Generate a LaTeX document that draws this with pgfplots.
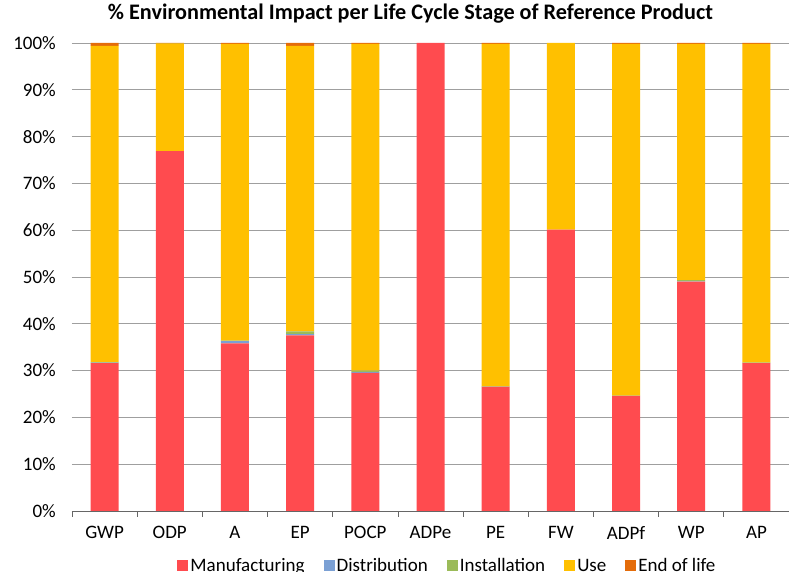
\documentclass[border=0pt]{standalone}
\usepackage{pgfplots}
\usepackage{pgfplotstable}
\pgfplotsset{compat=1.18}
\usepackage{fontspec}
\setmainfont{Carlito}
\definecolor{cman}{HTML}{FF4B4F}
\definecolor{cdis}{HTML}{7BA0D4}
\definecolor{cins}{HTML}{9BBB59}
\definecolor{cuse}{HTML}{FFC000}
\definecolor{ceol}{HTML}{E46C0A}
\pgfplotstableread{
x cat  man   dis   ins   use    eol
0 GWP  31.6  0.1   0.1   67.6   0.6
1 ODP  76.9  0.0   0.0   23.0   0.1
2 A    35.8  0.5   0.1   63.4   0.2
3 EP   37.5  0.3   0.6   61.0   0.6
4 POCP 29.5  0.2   0.3   69.8   0.2
5 ADPe 100.0 0.0   0.0   0.0    0.0
6 PE   26.5  0.05  0.05  73.2   0.2
7 FW   60.1  0.0   0.0   39.9   0.0
8 ADPf 24.6  0.0   0.05  75.15  0.2
9 WP   49.0  0.05  0.3   50.45  0.2
10 AP  31.6  0.05  0.05  68.1   0.2
}\datatable
\begin{document}
\begin{tikzpicture}
\begin{axis}[
  name=ax,
  scale only axis,
  width=717pt, height=468pt,
  ybar stacked,
  bar width=28pt,
  xmin=-0.5, xmax=10.5,
  ymin=0, ymax=100,
  xtick={0,...,10},
  xticklabels={GWP,ODP,A,EP,POCP,ADPe,PE,FW,ADPf,WP,AP},
  minor xtick={-0.5,0.5,...,10.5},
  major tick length=0pt,
  minor tick length=6pt,
  tick align=outside,
  minor tick style={gray!80!black, line width=0.8pt},
  ytick={0,10,...,100},
  yticklabel={\pgfmathprintnumber{\tick}\%},
  /pgf/number format/assume math mode=true,
  ymajorgrids,
  major grid style={gray!75, line width=0.9pt},
  axis x line*=bottom,
  axis y line*=left,
  x axis line style={gray!80!black, line width=0.9pt},
  y axis line style={draw=none},
  tick label style={font=\fontsize{19}{21}\selectfont},
  yticklabel style={anchor=east, inner sep=0pt, xshift=-16pt},
  xticklabel style={anchor=north, inner sep=0pt, yshift=-15pt},
  title={\textbf{\% Environmental Impact per Life Cycle Stage of Reference Product}},
  title style={at={(0.5,1)}, anchor=center, yshift=23pt, xshift=-20pt, font=\fontsize{22.2}{24}\selectfont},
  legend columns=5,
  legend style={at={(0.523,-0.1175)}, anchor=center, draw=none, font=\fontsize{19}{21}\selectfont,
    nodes={inner sep=1pt},
    /tikz/every odd column/.append style={column sep=1pt},
    /tikz/every even column/.append style={column sep=18pt}},
  legend image code/.code={\path[#1, draw=none] (0pt,-5.5pt) rectangle (11pt,5.5pt);},
]
\addplot[fill=cman, draw=none] table[x=x, y=man] {\datatable};
\addplot[fill=cdis, draw=none] table[x=x, y=dis] {\datatable};
\addplot[fill=cins, draw=none] table[x=x, y=ins] {\datatable};
\addplot[fill=cuse, draw=none] table[x=x, y=use] {\datatable};
\addplot[fill=ceol, draw=none] table[x=x, y=eol] {\datatable};
\legend{Manufacturing,Distribution,Installation,Use,End of life}
\end{axis}
\pgfresetboundingbox
\path[use as bounding box] ([xshift=-72pt,yshift=-61pt]ax.south west) rectangle ([yshift=43pt]ax.north east);
\end{tikzpicture}
\end{document}
